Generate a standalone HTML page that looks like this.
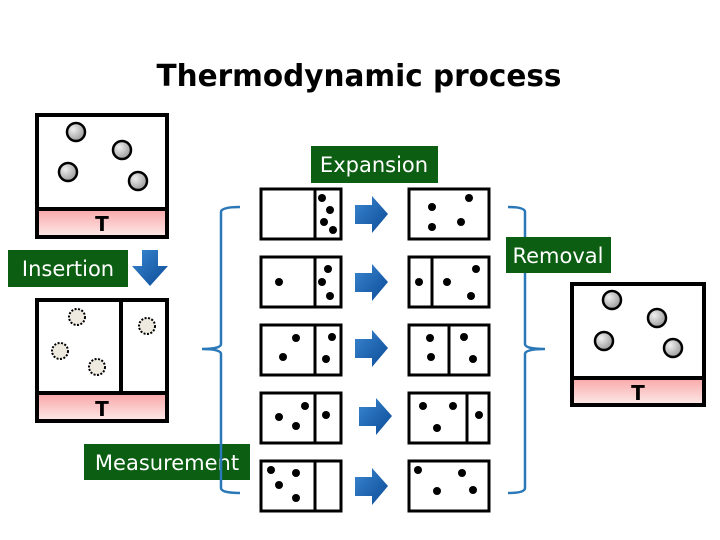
<!DOCTYPE html>
<html><head><meta charset="utf-8"><style>
html,body{margin:0;padding:0;background:#fff}
svg{display:block}
text{font-family:"DejaVu Sans","Liberation Sans",sans-serif}
</style></head><body>
<svg width="720" height="540" viewBox="0 0 720 540" xmlns="http://www.w3.org/2000/svg">
<defs>
<linearGradient id="pk" x1="0" y1="0" x2="0" y2="1"><stop offset="0" stop-color="#f9a9aa"/><stop offset="1" stop-color="#fde6e6"/></linearGradient>
<radialGradient id="gb" cx="0.35" cy="0.35" r="0.7"><stop offset="0" stop-color="#f0f0f0"/><stop offset="1" stop-color="#999"/></radialGradient>
<linearGradient id="bl" x1="0" y1="0" x2="1" y2="1"><stop offset="0" stop-color="#3a86d0"/><stop offset="1" stop-color="#0b4a96"/></linearGradient>
</defs>
<text x="359" y="86" text-anchor="middle" font-size="30" font-weight="bold" textLength="405" lengthAdjust="spacingAndGlyphs">Thermodynamic process</text>

<rect x="37" y="115" width="130" height="122" fill="#fff" stroke="#000" stroke-width="4"/>
<rect x="39" y="210" width="126" height="25" fill="url(#pk)"/>
<line x1="37" y1="209" x2="167" y2="209" stroke="#000" stroke-width="4"/>
<text x="102" y="231" text-anchor="middle" font-size="20" font-weight="bold">T</text>
<g fill="url(#gb)" stroke="#000" stroke-width="2.5">
<circle cx="76" cy="132" r="9"/><circle cx="122" cy="150" r="9"/><circle cx="68" cy="172" r="9"/><circle cx="138" cy="181" r="9"/>
</g>

<rect x="8" y="250" width="120" height="37" fill="#0b5e12"/>
<text x="68" y="276" text-anchor="middle" font-size="21" fill="#fff">Insertion</text>
<polygon points="142,250 158,250 158,266 168,266 150,286 132,266 142,266" fill="url(#bl)"/>

<rect x="37" y="300" width="130" height="121" fill="#fff" stroke="#000" stroke-width="4"/>
<rect x="39" y="395" width="126" height="24" fill="url(#pk)"/>
<line x1="37" y1="393" x2="167" y2="393" stroke="#000" stroke-width="4"/>
<line x1="121" y1="300" x2="121" y2="393" stroke="#000" stroke-width="4"/>
<text x="102" y="416" text-anchor="middle" font-size="20" font-weight="bold">T</text>
<g fill="#eeeae0" stroke="#000" stroke-width="2" stroke-dasharray="2,1.5">
<circle cx="77" cy="317" r="8"/><circle cx="60" cy="351" r="8"/><circle cx="97" cy="367" r="8"/><circle cx="147" cy="326" r="8"/>
</g>

<rect x="84" y="444" width="166" height="36" fill="#0b5e12"/>
<text x="167" y="470" text-anchor="middle" font-size="21" fill="#fff">Measurement</text>

<g fill="none" stroke="#2b78b8" stroke-width="2.5">
<path d="M240,207 Q221,207 221,212 L221,344 Q221,349 202,349 Q221,349 221,354 L221,488 Q221,493 240,493"/>
<path d="M508,207 Q525,207 525,212 L525,344 Q525,349 545,349 Q525,349 525,354 L525,488 Q525,493 508,493"/>
</g>

<rect x="311" y="146" width="127" height="37" fill="#0b5e12"/>
<text x="374" y="172" text-anchor="middle" font-size="21" fill="#fff">Expansion</text>

<rect x="506" y="237" width="105" height="36" fill="#0b5e12"/>
<text x="558" y="263" text-anchor="middle" font-size="21" fill="#fff">Removal</text>

<g fill="#fff" stroke="#000" stroke-width="3">
<rect x="261" y="189" width="80" height="50"/><rect x="409" y="189" width="80" height="50"/>
<rect x="261" y="257" width="80" height="50"/><rect x="409" y="257" width="80" height="50"/>
<rect x="261" y="325" width="80" height="50"/><rect x="409" y="325" width="80" height="50"/>
<rect x="261" y="393" width="80" height="50"/><rect x="409" y="393" width="80" height="50"/>
<rect x="261" y="461" width="80" height="50"/><rect x="409" y="461" width="80" height="50"/>
<line x1="315" y1="189" x2="315" y2="239"/>
<line x1="315" y1="257" x2="315" y2="307"/>
<line x1="315" y1="325" x2="315" y2="375"/>
<line x1="315" y1="393" x2="315" y2="443"/>
<line x1="315" y1="461" x2="315" y2="511"/>
<line x1="432" y1="257" x2="432" y2="307"/>
<line x1="449" y1="325" x2="449" y2="375"/>
<line x1="467" y1="393" x2="467" y2="443"/>
</g>
<g fill="#000">
<circle cx="322" cy="198" r="4"/><circle cx="330" cy="210" r="4"/><circle cx="324" cy="222" r="4"/><circle cx="333" cy="230" r="4"/>
<circle cx="432" cy="207" r="4"/><circle cx="469" cy="198" r="4"/><circle cx="432" cy="227" r="4"/><circle cx="461" cy="222" r="4"/>
<circle cx="279" cy="282" r="4"/><circle cx="328" cy="269" r="4"/><circle cx="322" cy="282" r="4"/><circle cx="330" cy="296" r="4"/>
<circle cx="419" cy="282" r="4"/><circle cx="447" cy="282" r="4"/><circle cx="476" cy="269" r="4"/><circle cx="471" cy="296" r="4"/>
<circle cx="296" cy="338" r="4"/><circle cx="283" cy="357" r="4"/><circle cx="332" cy="337" r="4"/><circle cx="326" cy="359" r="4"/>
<circle cx="430" cy="338" r="4"/><circle cx="431" cy="357" r="4"/><circle cx="464" cy="337" r="4"/><circle cx="473" cy="359" r="4"/>
<circle cx="305" cy="406" r="4"/><circle cx="279" cy="417" r="4"/><circle cx="296" cy="426" r="4"/><circle cx="326" cy="415" r="4"/>
<circle cx="423" cy="406" r="4"/><circle cx="453" cy="406" r="4"/><circle cx="437" cy="428" r="4"/><circle cx="479" cy="415" r="4"/>
<circle cx="271" cy="470" r="4"/><circle cx="296" cy="473" r="4"/><circle cx="279" cy="485" r="4"/><circle cx="296" cy="498" r="4"/>
<circle cx="418" cy="470" r="4"/><circle cx="462" cy="473" r="4"/><circle cx="437" cy="491" r="4"/><circle cx="473" cy="490" r="4"/>
</g>
<g fill="url(#bl)">
<polygon points="355,205 372,205 372,196 388,214 372,233 372,224 355,224"/>
<polygon points="355,273 372,273 372,264 388,282 372,301 372,292 355,292"/>
<polygon points="355,339 372,339 372,330 388,348 372,367 372,358 355,358"/>
<polygon points="359,407 376,407 376,398 392,416 376,435 376,426 359,426"/>
<polygon points="355,477 372,477 372,468 388,486 372,505 372,496 355,496"/>
</g>

<rect x="572" y="284" width="132" height="121" fill="#fff" stroke="#000" stroke-width="4"/>
<rect x="574" y="379" width="128" height="24" fill="url(#pk)"/>
<line x1="572" y1="378" x2="704" y2="378" stroke="#000" stroke-width="4"/>
<text x="638" y="400" text-anchor="middle" font-size="20" font-weight="bold">T</text>
<g fill="url(#gb)" stroke="#000" stroke-width="2.5">
<circle cx="612" cy="300" r="9"/><circle cx="657" cy="318" r="9"/><circle cx="604" cy="341" r="9"/><circle cx="673" cy="348" r="9"/>
</g>
</svg>
</body></html>
